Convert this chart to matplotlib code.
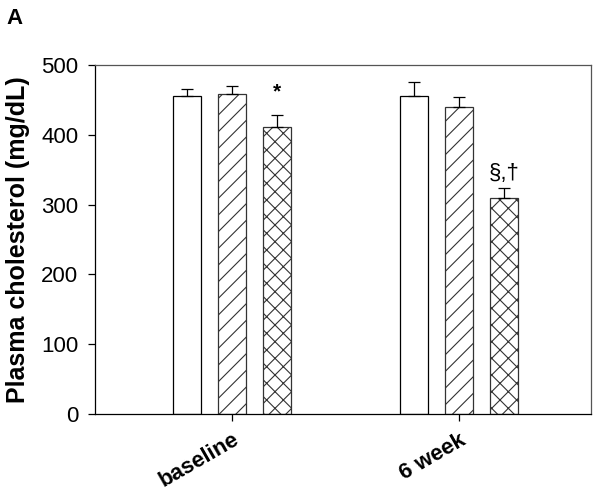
import matplotlib
matplotlib.use("Agg")
import matplotlib.pyplot as plt
import numpy as np

plt.rcParams["font.family"] = ["Liberation Sans", "DejaVu Sans"]
plt.rcParams["hatch.linewidth"] = 0.8

# data
groups = ["baseline", "6 week"]
means_a = [455, 456]   # open bars
means_b = [458, 440]   # hatched bars
means_c = [411, 309]   # cross-hatched bars
err_a = [10, 19]
err_b = [12, 14]
err_c = [17, 15]
marks_c = ["*", "§,†"]

fig = plt.figure(figsize=(6.02, 4.97), dpi=100)
ax = fig.add_axes([0.1578, 0.167, 0.8239, 0.7022])

x = np.arange(1, len(groups) + 1)
off = 0.198
w = 0.120

series = [
    (means_a, err_a, -off, ""),
    (means_b, err_b, 0.0, "//"),
    (means_c, err_c, off, "xx"),
]
for vals, errs, dx, hatch in series:
    edge = "black" if hatch == "" else "#333333"
    ax.bar(x + dx, vals, width=w, color="white", edgecolor=edge,
           linewidth=0.9, hatch=hatch, zorder=2)
    ax.errorbar(x + dx, vals, yerr=[np.zeros(len(errs)), errs], fmt="none",
                ecolor="black", elinewidth=0.9, capsize=4, capthick=0.9,
                zorder=3)

# significance marks above the third series
for xi, v, e, m in zip(x + off, means_c, err_c, marks_c):
    if m == "*":
        ax.text(xi, v + e + 20, m, ha="center", va="bottom", fontsize=15,
                fontweight="bold")
    else:
        ax.text(xi, v + e + 6, m, ha="center", va="bottom", fontsize=16)

ax.set_xlim(0.3965, 2.5815)
ax.set_ylim(0, 500)
ax.set_yticks([0, 100, 200, 300, 400, 500])
ax.set_xticks(x)
ax.set_xticklabels(groups, rotation=30, ha="right", rotation_mode="anchor",
                   fontsize=16, fontweight="bold")
ax.tick_params(axis="y", labelsize=16, direction="out", length=5, width=0.9,
               pad=7)
ax.tick_params(axis="x", direction="out", length=5, width=0.9, pad=6)
ax.set_ylabel("Plasma cholesterol (mg/dL)", fontsize=18, fontweight="bold",
              labelpad=8)

for side in ["left", "bottom"]:
    ax.spines[side].set_color("black")
    ax.spines[side].set_linewidth(0.9)
for side in ["top", "right"]:
    ax.spines[side].set_color("#555555")
    ax.spines[side].set_linewidth(0.9)

fig.text(0.01, 0.962, "A", fontsize=16, fontweight="bold", ha="left",
         va="center")

fig.savefig("out.png", dpi=100)
